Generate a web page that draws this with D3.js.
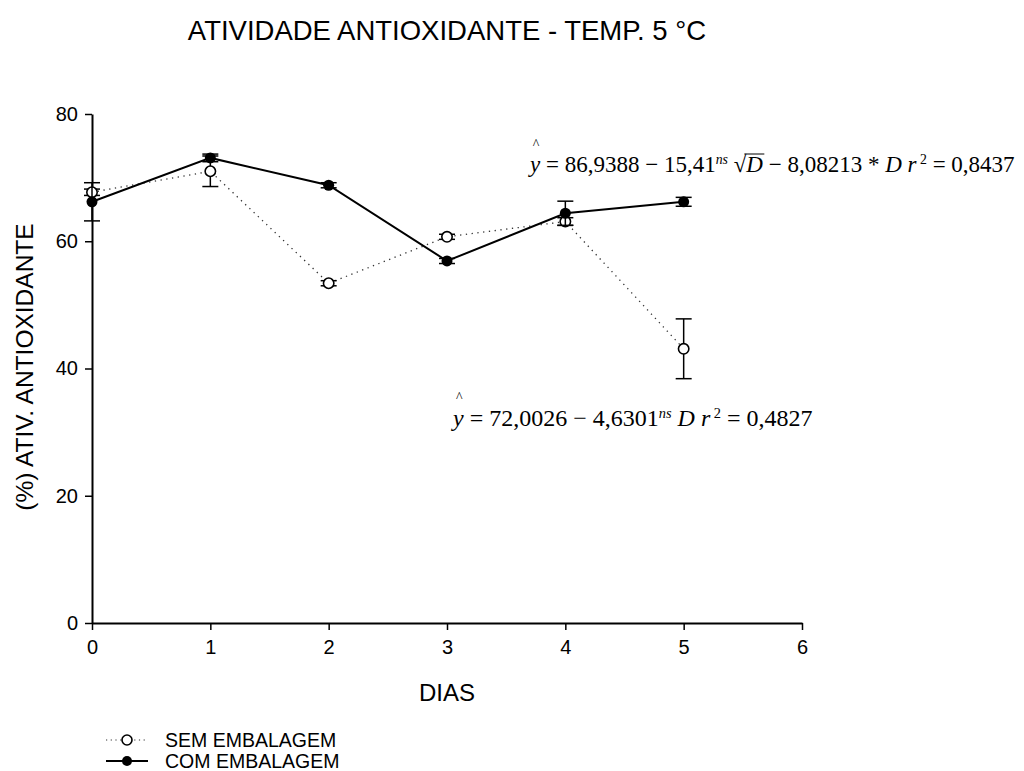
<!DOCTYPE html>
<html>
<head>
<meta charset="utf-8">
<script src="https://cdn.jsdelivr.net/npm/d3@7"></script>
<style>
  html, body { margin: 0; padding: 0; background: #fff; }
  svg { display: block; }
  .sans { font-family: Arial, "Liberation Sans", Helvetica, sans-serif; }
  .serif { font-family: "Times New Roman", "Liberation Serif", serif; }
</style>
</head>
<body>
<svg id="chart" width="1024" height="771"></svg>
<script>
// Storage days
const days = [0, 1, 2, 3, 4, 5];

// Antioxidant activity (%) and standard errors
const semValues = [67.7, 71.0, 53.4, 60.7, 63.1, 43.1];
const semErrors = [0.5, 2.4, 0.4, 0.4, 0.6, 4.7];
const comValues = [66.2, 73.1, 68.8, 56.9, 64.4, 66.2];
const comErrors = [3.0, 0.6, 0.4, 0.4, 1.9, 0.7];

// Axis ticks
const xTicks = [0, 1, 2, 3, 4, 5, 6];
const yTicks = [0, 20, 40, 60, 80];

const seriesNames = ["SEM EMBALAGEM", "COM EMBALAGEM"];

const svg = d3.select("#chart");

const x = d3.scaleLinear().domain([0, 6]).range([92, 802]);
const y = d3.scaleLinear().domain([0, 80]).range([623, 114]);

// Title
svg.append("text")
  .attr("class", "sans")
  .attr("x", 447).attr("y", 40)
  .attr("text-anchor", "middle")
  .attr("font-size", 27.5)
  .text("ATIVIDADE ANTIOXIDANTE - TEMP. 5 °C");

// Axes
const xAxis = d3.axisBottom(x).tickValues(xTicks).tickFormat(d3.format("d"))
  .tickSize(7).tickSizeOuter(0).tickPadding(10);
const yAxis = d3.axisLeft(y).tickValues(yTicks).tickFormat(d3.format("d"))
  .tickSize(7).tickSizeOuter(0).tickPadding(7);

const gx = svg.append("g").attr("transform", `translate(0,${y(0)})`).call(xAxis);
const gy = svg.append("g").attr("transform", `translate(${x(0)},0)`).call(yAxis);
[gx, gy].forEach(g => {
  g.select(".domain").attr("stroke", "#000").attr("stroke-width", 2);
  g.selectAll(".tick line").attr("stroke", "#000").attr("stroke-width", 1.5);
  g.selectAll(".tick text")
    .attr("font-family", "Arial, 'Liberation Sans', sans-serif")
    .attr("font-size", 20).attr("fill", "#000");
});

// Axis titles
svg.append("text")
  .attr("class", "sans")
  .attr("x", 447).attr("y", 701)
  .attr("text-anchor", "middle")
  .attr("font-size", 24)
  .text("DIAS");

svg.append("text")
  .attr("class", "sans")
  .attr("transform", "translate(33,367) rotate(-90)")
  .attr("text-anchor", "middle")
  .attr("font-size", 24.5)
  .text("(%) ATIV. ANTIOXIDANTE");

// Series
const sem = days.map((d, i) => ({ d, v: semValues[i], e: semErrors[i] }));
const com = days.map((d, i) => ({ d, v: comValues[i], e: comErrors[i] }));

const line = d3.line().x(p => x(p.d)).y(p => y(p.v));

function drawErrors(data) {
  const g = svg.append("g").attr("stroke", "#000").attr("stroke-width", 1.5);
  data.forEach(p => {
    const cx = x(p.d), y1 = y(p.v + p.e), y2 = y(p.v - p.e);
    g.append("line").attr("x1", cx).attr("x2", cx).attr("y1", y1).attr("y2", y2);
    g.append("line").attr("x1", cx - 8).attr("x2", cx + 8).attr("y1", y1).attr("y2", y1);
    g.append("line").attr("x1", cx - 8).attr("x2", cx + 8).attr("y1", y2).attr("y2", y2);
  });
}

// Unpackaged (dotted, open circles)
svg.append("path").datum(sem)
  .attr("d", line).attr("fill", "none")
  .attr("stroke", "#333").attr("stroke-width", 1.3)
  .attr("stroke-dasharray", "1.3,4.5");
drawErrors(sem);
svg.append("g").selectAll("circle").data(sem).join("circle")
  .attr("cx", p => x(p.d)).attr("cy", p => y(p.v)).attr("r", 5.2)
  .attr("fill", "#fff").attr("stroke", "#000").attr("stroke-width", 1.6);

// Packaged (solid, filled circles)
svg.append("path").datum(com)
  .attr("d", line).attr("fill", "none")
  .attr("stroke", "#000").attr("stroke-width", 2);
drawErrors(com);
svg.append("g").selectAll("circle").data(com).join("circle")
  .attr("cx", p => x(p.d)).attr("cy", p => y(p.v)).attr("r", 5.5)
  .attr("fill", "#000");

// Regression equations
function equation(x0, baseline, size, parts) {
  const t = svg.append("text")
    .attr("class", "serif")
    .attr("x", x0).attr("y", baseline)
    .attr("font-size", size);
  parts.forEach(p => {
    const s = t.append("tspan").text(p.t);
    if (p.i) s.attr("font-style", "italic");
    if (p.sup) s.attr("baseline-shift", "55%").attr("font-size", size * 0.6);
    if (p.id) s.attr("id", p.id);
  });
  // hat over y
  svg.append("text")
    .attr("class", "serif")
    .attr("x", x0 + size * 0.12).attr("y", baseline - size * 0.98)
    .attr("font-size", 14)
    .text("^");
  return t;
}

equation(530, 172, 23, [
  { t: "y", i: true },
  { t: " = 86,9388 \u2212 15,41" },
  { t: "ns", i: true, sup: true },
  { t: " \u221A" },
  { t: "D", i: true, id: "sqrtD" },
  { t: " \u2212 8,08213 * " },
  { t: "D", i: true },
  { t: " " },
  { t: "r", i: true },
  { t: " 2", sup: true },
  { t: " = 0,8437" }
]);
// overbar of the square root
const dBox = document.getElementById("sqrtD").getBBox();
svg.append("line")
  .attr("x1", dBox.x - 1).attr("x2", dBox.x + dBox.width + 1)
  .attr("y1", dBox.y + 2).attr("y2", dBox.y + 2)
  .attr("stroke", "#000").attr("stroke-width", 1);

equation(453, 426, 24, [
  { t: "y", i: true },
  { t: " = 72,0026 \u2212 4,6301" },
  { t: "ns", i: true, sup: true },
  { t: " " },
  { t: "D", i: true },
  { t: " " },
  { t: "r", i: true },
  { t: " 2", sup: true },
  { t: " = 0,4827" }
]);

// Legend
const legend = svg.append("g");
const rows = [
  { name: seriesNames[0], y: 740, dotted: true },
  { name: seriesNames[1], y: 761, dotted: false }
];
rows.forEach(r => {
  legend.append("line")
    .attr("x1", 106).attr("x2", 148).attr("y1", r.y).attr("y2", r.y)
    .attr("stroke", r.dotted ? "#333" : "#000")
    .attr("stroke-width", r.dotted ? 1.2 : 2)
    .attr("stroke-dasharray", r.dotted ? "1.2,3.5" : null);
  legend.append("circle")
    .attr("cx", 127).attr("cy", r.y).attr("r", 5)
    .attr("fill", r.dotted ? "#fff" : "#000")
    .attr("stroke", "#000").attr("stroke-width", r.dotted ? 1.6 : 0);
  legend.append("text")
    .attr("class", "sans")
    .attr("x", 165).attr("y", r.y + 7)
    .attr("font-size", 19.5)
    .text(r.name);
});
</script>
</body>
</html>
